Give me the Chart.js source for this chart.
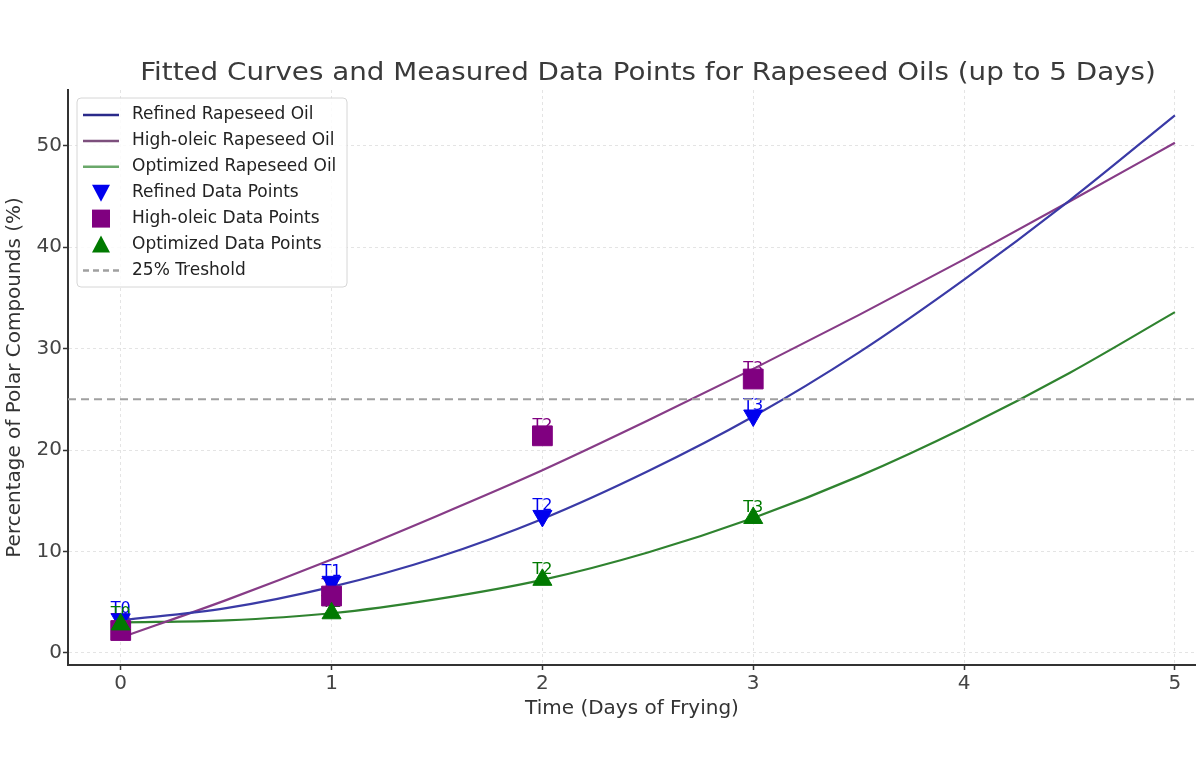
<!DOCTYPE html>
<html>
<head>
<meta charset="utf-8">
<title>Rapeseed Oils</title>
<script src="https://cdn.jsdelivr.net/npm/chart.js@4/dist/chart.umd.min.js"></script>
<style>
    html, body { margin: 0; padding: 0; background: #fff; }
    canvas { display: block; }
</style>
</head>
<body>
<canvas id="chart" width="1196" height="779"></canvas>
<script>
// fitted curves, every half day
const fitDays = [0, 0.5, 1, 1.5, 2, 2.5, 3, 3.5, 4, 4.5, 5]
const refinedFit = [3.2, 4.4, 6.5, 9.4, 13.2, 17.9, 23.3, 29.6, 36.8, 44.6, 53.0]
const highOleicFit = [1.5, 5.2, 9.2, 13.5, 18.0, 22.9, 28.0, 33.3, 38.8, 44.5, 50.3]
const optimizedFit = [3.0, 3.2, 3.9, 5.3, 7.2, 9.9, 13.3, 17.4, 22.2, 27.6, 33.6]

// measured points
const measuredDays = [0, 1, 2, 3]
const pointLabels = ['T0', 'T1', 'T2', 'T3']
const refinedPoints = [3.3, 7.0, 13.5, 23.4]
const highOleicPoints = [2.2, 5.6, 21.4, 27.0]
const optimizedPoints = [2.8, 3.9, 7.2, 13.3]

const threshold = 25
const xTicks = [0, 1, 2, 3, 4, 5]
const yTicks = [0, 10, 20, 30, 40, 50]

const chartTitle = 'Fitted Curves and Measured Data Points for Rapeseed Oils (up to 5 Days)'
const FONT = 'DejaVu Sans'

const toXY = (xs, ys) => xs.map((x, i) => ({ x: x, y: ys[i] }))

const legendItems = [
    { text: 'Refined Rapeseed Oil', kind: 'line', color: '#2a2a8a' },
    { text: 'High-oleic Rapeseed Oil', kind: 'line', color: '#7d4f7d' },
    { text: 'Optimized Rapeseed Oil', kind: 'line', color: '#6aa86a' },
    { text: 'Refined Data Points', kind: 'down', color: '#0000ee' },
    { text: 'High-oleic Data Points', kind: 'square', color: '#800080' },
    { text: 'Optimized Data Points', kind: 'up', color: '#007a00' },
    { text: '25% Treshold', kind: 'dash', color: '#a0a0a0' }
]

// title drawn by hand: the reference is a bit stretched sideways
const stretchedTitle = {
    id: 'stretchedTitle',
    afterDraw: function (chart) {
        const ctx = chart.ctx
        ctx.save()
        ctx.font = '25px "' + FONT + '"'
        ctx.fillStyle = '#3a3a3a'
        ctx.textAlign = 'center'
        ctx.textBaseline = 'alphabetic'
        ctx.translate(648, 80)
        ctx.scale(1.11, 1)
        ctx.fillText(chartTitle, 0, 0)
        ctx.restore()
    }
}

const boxLegend = {
    id: 'boxLegend',
    afterDraw: function (chart) {
        const ctx = chart.ctx
        const x0 = 77, y0 = 98, w = 270, h = 189, row = 25.9
        ctx.save()
        ctx.fillStyle = 'rgba(255,255,255,0.85)'
        ctx.strokeStyle = '#d6d6d6'
        ctx.lineWidth = 1
        ctx.beginPath()
        ctx.roundRect(x0, y0, w, h, 4)
        ctx.fill()
        ctx.stroke()
        ctx.font = '17px "' + FONT + '"'
        ctx.textBaseline = 'middle'
        legendItems.forEach(function (item, i) {
            const cy = y0 + 17 + i * row
            const sx = 83, ex = 119, mx = 101
            ctx.fillStyle = item.color
            ctx.strokeStyle = item.color
            ctx.lineWidth = 2.5
            ctx.setLineDash(item.kind === 'dash' ? [6, 4] : [])
            if (item.kind === 'line' || item.kind === 'dash') {
                ctx.beginPath()
                ctx.moveTo(sx, cy)
                ctx.lineTo(ex, cy)
                ctx.stroke()
            } else if (item.kind === 'square') {
                ctx.fillRect(mx - 9, cy - 9, 18, 18)
            } else {
                const d = item.kind === 'down' ? 1 : -1
                ctx.beginPath()
                ctx.moveTo(mx - 9, cy - 8 * d)
                ctx.lineTo(mx + 9, cy - 8 * d)
                ctx.lineTo(mx, cy + 9 * d)
                ctx.closePath()
                ctx.fill()
            }
            ctx.setLineDash([])
            ctx.fillStyle = '#222'
            ctx.fillText(item.text, 132, cy)
        })
        ctx.restore()
    }
}

// T0..T3 tags, drawn under the markers
const pointTags = {
    id: 'pointTags',
    beforeDatasetsDraw: function (chart) {
        const ctx = chart.ctx
        const xs = chart.scales.x, ys = chart.scales.y
        ctx.save()
        ctx.font = '16px "' + FONT + '"'
        ctx.textAlign = 'center'
        ctx.textBaseline = 'alphabetic'
        chart.data.datasets.forEach(function (ds) {
            if (!ds.tags) return
            ctx.fillStyle = ds.backgroundColor
            ds.data.forEach(function (p, i) {
                ctx.fillText(ds.tags[i], xs.getPixelForValue(p.x), ys.getPixelForValue(p.y) - 6)
            })
        })
        ctx.restore()
    }
}

const fitLine = (label, xs, ys, color) => ({
    type: 'line',
    label: label,
    data: toXY(xs, ys),
    borderColor: color,
    backgroundColor: color,
    borderWidth: 2.2,
    pointRadius: 0,
    cubicInterpolationMode: 'monotone',
    order: 10
})

const markers = (label, ys, color, style, rotation, radius, order) => ({
    type: 'scatter',
    label: label,
    data: toXY(measuredDays, ys),
    tags: pointLabels,
    backgroundColor: color,
    borderColor: color,
    pointStyle: style,
    rotation: rotation,
    pointRadius: radius,
    pointHoverRadius: radius,
    order: order
})

const axisFont = { family: FONT, size: 20 }
const noSidePadding = function (s) {
    s.paddingLeft = 0
    s.paddingRight = 0
    s.paddingTop = 0
    s.paddingBottom = 0
}

new Chart(document.getElementById('chart'), {
    data: {
        datasets: [
            fitLine('Refined Rapeseed Oil', fitDays, refinedFit, '#3a3aa6'),
            fitLine('High-oleic Rapeseed Oil', fitDays, highOleicFit, '#873c87'),
            fitLine('Optimized Rapeseed Oil', fitDays, optimizedFit, '#2f832f'),
            {
                type: 'line',
                label: '25% Treshold',
                data: [{ x: -0.25, y: threshold }, { x: 5.1, y: threshold }],
                borderColor: '#a0a0a0',
                borderWidth: 2,
                borderDash: [8, 5],
                pointRadius: 0,
                order: 9
            },
            markers('Refined Data Points', refinedPoints, '#0000ee', 'triangle', 180, 11, 3),
            markers('High-oleic Data Points', highOleicPoints, '#800080', 'rect', 0, 14, 2),
            markers('Optimized Data Points', optimizedPoints, '#007a00', 'triangle', 0, 11, 1)
        ]
    },
    options: {
        responsive: false,
        devicePixelRatio: 1,
        animation: false,
        events: [],
        layout: { autoPadding: false, padding: { top: 90, left: 0, right: 0, bottom: 0 } },
        plugins: {
            legend: { display: false },
            tooltip: { enabled: false },
            title: { display: false }
        },
        scales: {
            x: {
                type: 'linear',
                min: -0.25,
                max: 5.1,
                afterBuildTicks: function (s) { s.ticks = xTicks.map(v => ({ value: v })) },
                afterFit: function (s) { s.height = 114; noSidePadding(s) },
                ticks: { color: '#444', font: axisFont, padding: 2 },
                grid: { color: '#e4e4e4', tickColor: '#333', tickLength: 5, tickWidth: 1.5, tickBorderDash: [] },
                border: { color: '#333', width: 2, dash: [3, 3] },
                title: { display: true, text: 'Time (Days of Frying)', color: '#333', font: { family: FONT, size: 20 }, padding: { bottom: 58 } }
            },
            y: {
                type: 'linear',
                min: -1.2,
                max: 55.5,
                afterBuildTicks: function (s) { s.ticks = yTicks.map(v => ({ value: v })) },
                afterFit: function (s) { s.width = 68; noSidePadding(s) },
                ticks: { color: '#444', font: axisFont, padding: 1 },
                grid: { color: '#e4e4e4', tickColor: '#333', tickLength: 5, tickWidth: 1.5, tickBorderDash: [] },
                border: { color: '#333', width: 2, dash: [3, 3] },
                title: { display: true, text: 'Percentage of Polar Compounds (%)', color: '#333', font: { family: FONT, size: 20 }, padding: { top: 3 } }
            }
        }
    },
    plugins: [pointTags, boxLegend, stretchedTitle]
});
</script>
</body>
</html>
